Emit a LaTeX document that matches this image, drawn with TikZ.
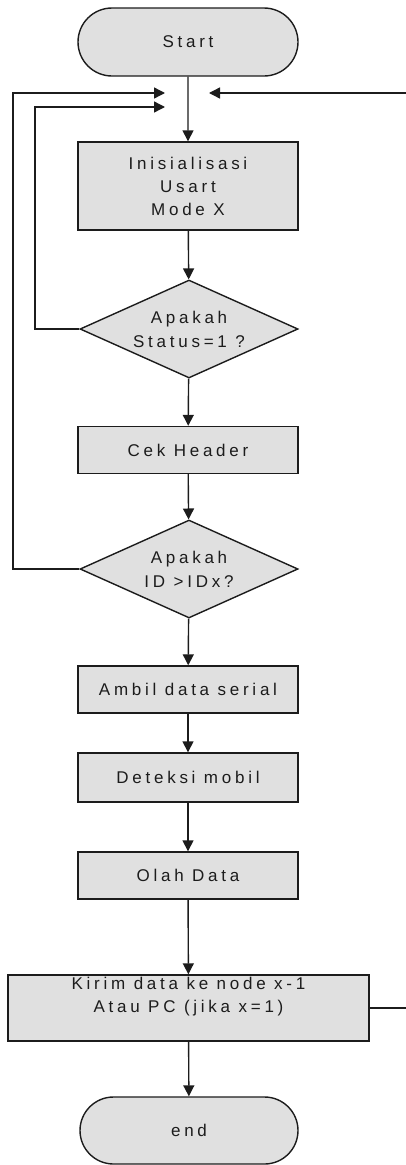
\documentclass[tikz,border=0pt]{standalone}
\usepackage{fontspec}
\usepackage{tikz}
\usetikzlibrary{arrows.meta,positioning,shapes.geometric,shapes.misc}
\newfontfamily\chartfont{Liberation Sans}[LetterSpace=22]
\definecolor{BoxFill}{HTML}{E0E0E0}
\definecolor{InkDark}{HTML}{1C1C1C}
\tikzset{
  proc/.style={rectangle, draw=InkDark, line width=1.4pt, fill=BoxFill,
             minimum width=220pt, inner sep=0pt, text=InkDark, align=center,
             font=\chartfont\fontsize{17}{23}\selectfont},
  term/.style={rounded rectangle, draw=InkDark, line width=1.4pt, fill=BoxFill,
             minimum width=220pt, minimum height=68pt, inner sep=0pt, text=InkDark,
             font=\chartfont\fontsize{17}{23}\selectfont},
  decide/.style={diamond, aspect=2.2, draw=InkDark, line width=1.4pt, fill=BoxFill,
             minimum width=218pt, minimum height=98pt, inner sep=0pt, text=InkDark,
             align=center, font=\chartfont\fontsize{17}{24}\selectfont},
  flow/.style={-{Triangle[length=11pt,width=11pt]}, line width=1.4pt, draw=InkDark},
}

\begin{document}
\begin{tikzpicture}[x=1pt, y=-1pt]
\useasboundingbox (0,0) rectangle (406,1165);
% ===================== main column
\node[term] (start) at (188,42) {Start};
\node[proc, minimum height=88pt] (init) at (188,186) {Inisialisasi\\Usart\\Mode X};
\node[decide] (cekstat) at (189,329) {Apakah\\Status=1 ?};
\node[proc, minimum height=47pt] (header) at (188,450) {Cek Header};
\node[decide] (cekid) at (189,569) {Apakah\\ID >IDx?};
\node[proc, minimum height=47pt] (ambil) at (188,689.5) {Ambil data serial};
\node[proc, minimum height=49pt] (deteksi) at (188,777.5) {Deteksi mobil};
\node[proc, minimum height=47pt] (olah) at (188,875.5) {Olah Data};
\node[proc, minimum width=361pt, minimum height=66pt, text depth=27pt] (kirim) at (188.5,1008)
   {Kirim data ke node x-1\\Atau PC (jika x=1)};
\node[term, minimum width=218pt, minimum height=67pt] (end) at (189,1130.5) {end};
% ===================== straight connectors
\draw[flow] (start) -- (init);
\draw[flow] (init) -- (cekstat);
\draw[flow] (cekstat) -- (header);
\draw[flow] (header) -- (cekid);
\draw[flow] (cekid) -- (ambil);
\draw[flow] (ambil) -- (deteksi);
\draw[flow] (deteksi) -- (olah);
\draw[flow] (olah) -- (kirim);
\draw[flow] (kirim) -- (end);
% ===================== loops back to the top
\coordinate (loopA) at (35,107);
\coordinate (tipA) at (165,107);
\coordinate (loopB) at (13,93);
\coordinate (tipB) at (165,93);
\coordinate (loopC) at (414,93);
\coordinate (tipC) at (209,93);
\draw[flow] (cekstat.west) -| (loopA) -- (tipA);
\draw[flow] (cekid.west) -| (loopB) -- (tipB);
\draw[flow] (kirim.east) -| (loopC) -- (tipC);
\end{tikzpicture}
\end{document}
